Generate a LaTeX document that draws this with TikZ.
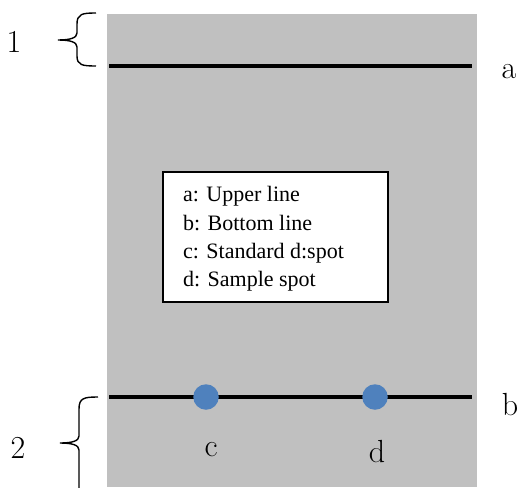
\documentclass[tikz,border=0pt]{standalone}
\usepackage{fontspec}
\newfontfamily\legendfont{Liberation Serif}
\definecolor{panelgray}{RGB}{192,192,192}
\definecolor{spotblue}{RGB}{79,129,189}
\begin{document}
\begin{tikzpicture}[x=1pt,y=-1pt,
  line/.style={line width=3.2pt},
  spot/.style={circle,fill=spotblue,minimum size=25.5pt,inner sep=0pt},
  bracepath/.style={line width=1.4pt},
  lbl/.style={font=\fontsize{32}{34}\selectfont,inner sep=0pt},
  legend/.style={draw=black,line width=1.4pt,fill=white,inner sep=0pt}]
\useasboundingbox (0,0) rectangle (521,487);
\fill[panelgray] (107,14) rectangle (477,487);
% lines
\coordinate (a1) at (109,66);
\coordinate (a2) at (472,66);
\coordinate (b1) at (109,397);
\coordinate (b2) at (472,397);
\draw[line] (a1) -- (a2);
\draw[line] (b1) -- (b2);
\node[spot] (c) at (206,397) {};
\node[spot] (d) at (375,397) {};
% legend
\node[legend,minimum width=225pt,minimum height=130pt] (box) at (275.5,237) {};
\node[anchor=west,inner sep=0pt,font=\legendfont\fontsize{22}{28.3}\selectfont,align=left] (legtext) at (183,239)
  {a: Upper line\\b: Bottom line\\c: Standard d:spot\\d: Sample spot};
% labels
\node[lbl] (la) at (509,72) {a};
\node[lbl] (lb) at (510,405) {b};
\node[lbl] (lc) at (211,450) {c};
\node[lbl] (ld) at (377,452) {d};
\node[lbl] (l1) at (14,42) {1};
\node[lbl] (l2) at (18,448) {2};
% braces
\draw[bracepath] (96,13) .. controls (82,13) and (77,14) .. (77,24) -- (77,33)
  .. controls (77,38) and (70,40) .. (58,40)
  .. controls (70,40) and (77,42) .. (77,47) -- (77,56)
  .. controls (77,65) and (82,66) .. (96,66);
\draw[bracepath] (98,397) .. controls (84,397) and (79,398) .. (79,409) -- (79,436)
  .. controls (79,441) and (72,443) .. (60,443)
  .. controls (72,443) and (79,445) .. (79,450) -- (79,490);
\end{tikzpicture}
\end{document}
